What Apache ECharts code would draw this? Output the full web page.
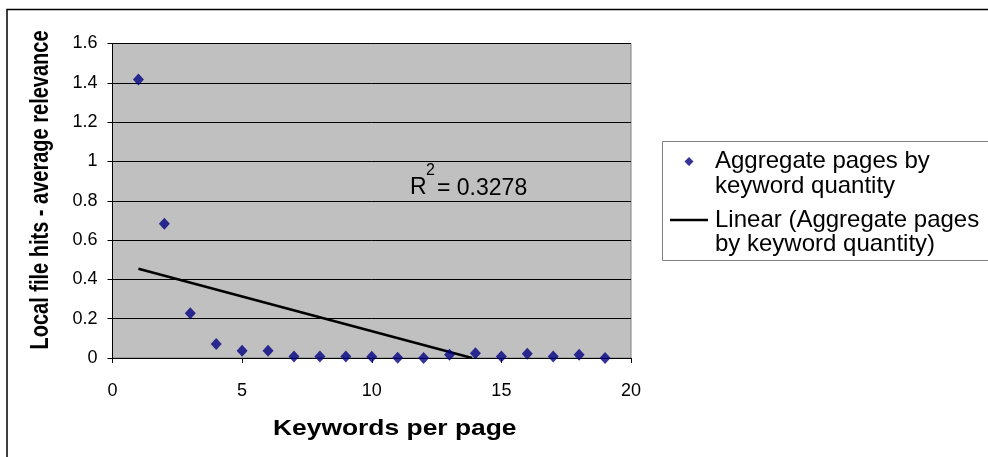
<!DOCTYPE html>
<html>
<head>
<meta charset="utf-8">
<script src="https://cdn.jsdelivr.net/npm/echarts@6/dist/echarts.min.js"></script>
<style>
html,body{margin:0;padding:0;background:#fff;}
#chart{width:988px;height:457px;}
</style>
</head>
<body>
<div id="chart"></div>
<script>
// ---- data ----
const keywordsPerPage = [1,2,3,4,5,6,7,8,9,10,11,12,13,14,15,16,17,18,19];
const avgRelevance = [1.417,0.683,0.228,0.071,0.037,0.037,0.007,0.007,0.007,0.006,0.001,0.000,0.017,0.024,0.007,0.022,0.007,0.017,0.000];
const yTicks = [0,0.2,0.4,0.6,0.8,1,1.2,1.4,1.6];
const xTicks = [0,5,10,15,20];
const seriesName = 'Aggregate pages by\nkeyword quantity';
const trendName = 'Linear (Aggregate pages\nby keyword quantity)';
const r2Value = '0.3278';
const xTitle = 'Keywords per page';
const yTitle = 'Local file hits - average relevance';

// linear regression for trendline
const n = keywordsPerPage.length;
const mx = keywordsPerPage.reduce((a,b)=>a+b,0)/n;
const my = avgRelevance.reduce((a,b)=>a+b,0)/n;
let sxy=0,sxx=0;
for(let i=0;i<n;i++){sxy+=(keywordsPerPage[i]-mx)*(avgRelevance[i]-my);sxx+=(keywordsPerPage[i]-mx)**2;}
const slope=sxy/sxx, intercept=my-slope*mx;
const x0 = keywordsPerPage[0], x1 = keywordsPerPage[n-1];
let xEnd = x1;
if (slope < 0 && -intercept/slope < x1) xEnd = -intercept/slope;
const trendData = [[x0, intercept+slope*x0],[xEnd, Math.max(0, intercept+slope*xEnd)]];

const FONT = '"Liberation Sans", Arial, sans-serif';
// legend icons: invisible corner points keep the icon box 40x40 so the mark sits level with the first text line
const diamondIcon = 'path://M0,0L0,0M40,40L40,40M19,3.25L23.5,7.75L19,12.25L14.5,7.75Z';
const lineIcon = 'path://M0,0L0,0M40,40L40,40M0,6.5L38,6.5L38,9L0,9Z';

const chart = echarts.init(document.getElementById('chart'));
chart.setOption({
  animation:false,
  backgroundColor:'#ffffff',
  grid:{left:112.5,right:357,top:43.5,bottom:99,show:true,backgroundColor:'#c0c0c0',borderColor:'#808080',borderWidth:1},
  xAxis:{type:'value',min:xTicks[0],max:xTicks[xTicks.length-1],interval:5,
    axisLine:{show:true,onZero:false,lineStyle:{color:'#000',width:1}},
    axisTick:{show:true,inside:false,length:5,lineStyle:{color:'#000'}},
    axisLabel:{color:'#000',fontSize:18,fontFamily:FONT,margin:24},
    splitLine:{show:false}},
  yAxis:{type:'value',min:yTicks[0],max:yTicks[yTicks.length-1],interval:0.2,
    axisLine:{show:true,lineStyle:{color:'#000',width:1}},
    axisTick:{show:true,inside:false,length:5,lineStyle:{color:'#000'}},
    axisLabel:{color:'#000',fontSize:18,fontFamily:FONT,margin:15},
    splitLine:{show:true,lineStyle:{color:'#000',width:1}}},
  legend:{
    left:670,top:149.25,orient:'vertical',itemGap:9.5,padding:0,
    itemWidth:40,itemHeight:40,itemStyle:{borderWidth:0},
    textStyle:{fontSize:24,fontFamily:FONT,color:'#000',lineHeight:24.5},
    data:[{name:seriesName,icon:diamondIcon},{name:trendName,icon:lineIcon}]
  },
  series:[
    {name:seriesName,type:'scatter',data:keywordsPerPage.map((x,i)=>[x,avgRelevance[i]]),
     symbol:'diamond',symbolSize:[11,12],itemStyle:{color:'#000080'},z:3},
    {name:trendName,type:'line',data:trendData,symbol:'none',showSymbol:false,
     lineStyle:{color:'#000',width:2.5},itemStyle:{color:'#000'},z:2}
  ],
  graphic:[
    {type:'rect',shape:{x:7,y:9.5,width:1100,height:600},style:{fill:'none',stroke:'#000',lineWidth:1.5},silent:true},
    {type:'rect',shape:{x:662.5,y:141.5,width:500,height:119},style:{fill:'none',stroke:'#808080',lineWidth:1},silent:true,z:-1},
    {type:'text',x:273,y:429,scaleX:1.2,style:{text:xTitle,font:'bold 22px '+FONT,fill:'#000',align:'left',verticalAlign:'middle'}},
    {type:'text',x:41.5,y:190,rotation:Math.PI/2,scaleY:1.25,style:{text:yTitle,font:'bold 20px '+FONT,fill:'#000',align:'center',verticalAlign:'middle'}},
    {type:'text',x:410,y:188,style:{text:'R',font:'23px '+FONT,fill:'#000',align:'left',verticalAlign:'middle'}},
    {type:'text',x:426,y:171,style:{text:'2',font:'16px '+FONT,fill:'#000',align:'left',verticalAlign:'middle'}},
    {type:'text',x:437,y:189,style:{text:'= '+r2Value,font:'23px '+FONT,fill:'#000',align:'left',verticalAlign:'middle'}}
  ]
});
</script>
</body>
</html>
